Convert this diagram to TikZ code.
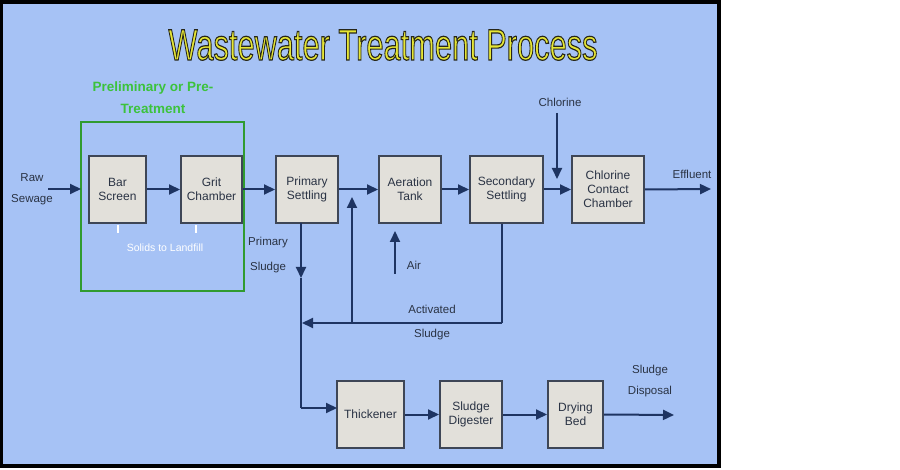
\documentclass[tikz,border=0pt]{standalone}
\usepackage{fontspec}
\usepackage{graphicx}
\setmainfont{Liberation Sans}
\usetikzlibrary{arrows.meta}
\definecolor{panel}{HTML}{A6C2F5}
\definecolor{boxfill}{HTML}{E2E0DA}
\definecolor{boxline}{HTML}{3E4656}
\definecolor{flow}{HTML}{1E3462}
\definecolor{lbl}{HTML}{2A3344}
\definecolor{pregreen}{HTML}{3CC23C}
\definecolor{titley}{HTML}{E6E635}
\newcommand{\outlinedtext}[1]{{\color{titley}\special{pdf:literal direct 2 Tr 1.2 w 0.15 0.15 0.1 RG}#1\special{pdf:literal direct 0 Tr}}}
\tikzset{
  x=1pt, y=-1pt,
  unit/.style={draw=boxline, line width=2pt, fill=boxfill, inner sep=1pt, align=center,
    text=lbl, font=\fontsize{12}{14}\selectfont, minimum height=67pt},
  lab/.style={text=lbl, align=center, font=\fontsize{11.5}{21}\selectfont, inner sep=0pt},
  flowline/.style={draw=flow, line width=2pt},
  arr/.style={flowline, -{Triangle[length=11pt,width=10pt]}},
}
\begin{document}
\begin{tikzpicture}
\useasboundingbox (0,0) rectangle (900,470);
\fill[white] (0,0) rectangle (900,470);
\draw[line width=3.5pt, fill=panel] (1,2) rectangle (719,466);
% title
\node[inner sep=0pt] (title) at (383,45) {\fontsize{44}{50}\selectfont\scalebox{0.7}[1]{\outlinedtext{Wastewater Treatment Process}}};
% pre-treatment
\node[text=pregreen, align=center, font=\fontsize{13.5}{22}\selectfont\bfseries, inner sep=0pt] (pretxt) at (153,98) {Preliminary or Pre-\\Treatment};
\draw[draw=pregreen!80!black, line width=2pt] (81,122) rectangle (244,291);
% units
\node[unit, minimum width=57pt] (bar) at (117.5,189.5) {Bar\\Screen};
\node[unit, minimum width=61pt] (grit) at (211.5,189.5) {Grit\\Chamber};
\node[unit, minimum width=62pt] (prim) at (307,189.5) {Primary\\Settling};
\node[unit, minimum width=62pt] (aer) at (410,189.5) {Aeration\\Tank};
\node[unit, minimum width=73pt] (sec) at (506.5,189.5) {Secondary\\Settling};
\node[unit, minimum width=72pt] (chl) at (608,189.5) {Chlorine\\Contact\\Chamber};
\node[unit, minimum width=67pt] (thick) at (370.5,414.5) {Thickener};
\node[unit, minimum width=62pt] (dig) at (471,414.5) {Sludge\\Digester};
\node[unit, minimum width=55pt] (dry) at (575.5,414.5) {Drying\\Bed};
% labels
\node[lab] (raw) at (32,189) {Raw\\Sewage};
\node[lab] (chlor) at (560,102) {Chlorine};
\node[lab] (eff) at (692,174) {Effluent};
\node[lab] (air) at (414,265) {Air};
\node[lab, font=\fontsize{11.5}{25}\selectfont] (psl) at (268,255) {Primary\\Sludge};
\node[lab, font=\fontsize{11.5}{24}\selectfont] (asl) at (432,323) {Activated\\Sludge};
\node[lab] (disp) at (650,381) {Sludge\\Disposal};
\node[text=white, font=\fontsize{10.5}{12}\selectfont, inner sep=0pt] (solids) at (165,248) {Solids to Landfill};
% coordinates
\coordinate (rawin) at (48,189);
\coordinate (greenin) at (81,189);
\coordinate (chltop) at (557,113);
\coordinate (chltip) at (557,179);
\coordinate (effout) at (711,189);
\coordinate (airbot) at (395,274);
\coordinate (airtip) at (395,231);
\coordinate (secdn) at (502,323);
\coordinate (retL) at (302,323);
\coordinate (retup) at (352,323);
\coordinate (rettip) at (352,197);
\coordinate (pdtop) at (301,223);
\coordinate (pdtip) at (301,278);
\coordinate (pdbot) at (301,408);
\coordinate (thin) at (337,408);
\coordinate (dispout) at (674,415);
% main flow
\draw[arr] (rawin) -- (greenin);
\draw[arr] (bar.east) -- (grit.west);
\draw[arr] (grit.east) -- (prim.west);
\draw[arr] (prim.east) -- (aer.west);
\draw[arr] (aer.east) -- (sec.west);
\draw[arr] (sec.east) -- (chl.west);
\draw[arr] (chl.east) -- (effout);
\draw[arr] (chltop) -- (chltip);
\draw[arr] (airbot) -- (airtip);
% activated sludge return
\draw[flowline] (sec.south -| secdn) -- (secdn);
\draw[arr] (secdn) -- (retL);
\draw[arr] (retup) -- (rettip);
% primary sludge
\draw[arr] (pdtop) -- (pdtip);
\draw[flowline] (pdtip) -- (pdbot);
\draw[arr] (pdbot) -- (thin);
% sludge line
\draw[arr] (thick.east) -- (dig.west);
\draw[arr] (dig.east) -- (dry.west);
\draw[arr] (dry.east) -- (dispout);
% solids ticks
\draw[white, line width=1.2pt] (118,225) -- (118,233);
\draw[white, line width=1.2pt] (196,225) -- (196,233);
\end{tikzpicture}
\end{document}
